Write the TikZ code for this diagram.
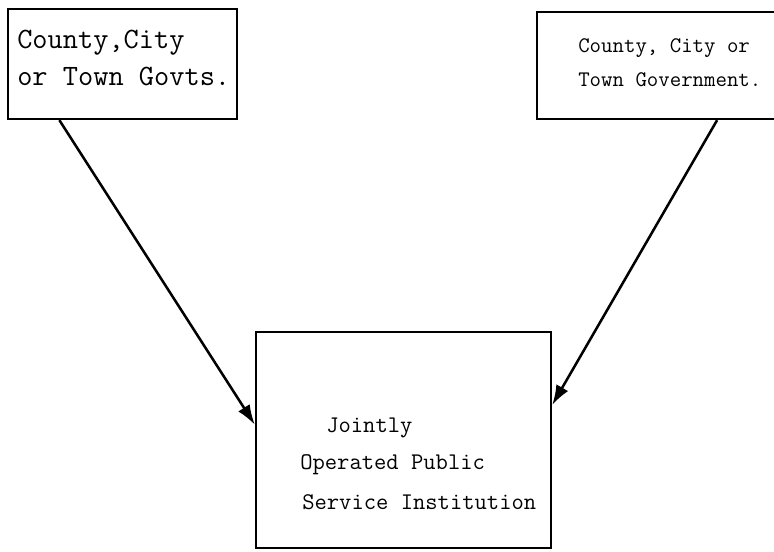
\documentclass[tikz,border=0pt]{standalone}
\usepackage{tikz}
\usetikzlibrary{calc}
\usetikzlibrary{arrows.meta}

\tikzset{govbox/.style={draw,line width=1.6pt,inner sep=0pt}}
\tikzset{tw/.style={inner sep=0pt,anchor=west,font=\ttfamily}}
\tikzset{feed/.style={line width=1.8pt,-{Latex[length=0.5cm,width=0.34cm]}}}

\begin{document}
\begin{tikzpicture}[x=0.025cm,y=-0.025cm]
\useasboundingbox (0,0) rectangle (774,551);
% the three boxes
\node[govbox,minimum width=5.725cm,minimum height=2.75cm] (govA) at (122.5,64) {};
\node[govbox,minimum width=6.15cm,minimum height=2.675cm] (govB) at (660,65.5) {};
\node[govbox,minimum width=7.375cm,minimum height=5.4cm] (inst) at (403.5,440) {};
% texts
\node[tw,font=\ttfamily\fontsize{21}{24}\selectfont] (a1) at (17,43) {County,City};
\node[tw,font=\ttfamily\fontsize{21}{24}\selectfont] (a2) at (17,76) {or Town Govts.};
\node[tw,font=\ttfamily\fontsize{15.8}{18}\selectfont] (b1) at (578,48) {County, City or};
\node[tw,font=\ttfamily\fontsize{15.8}{18}\selectfont] (b2) at (578,80) {Town Government.};
\node[tw,font=\ttfamily\fontsize{17}{20}\selectfont] (c1) at (326,428) {Jointly};
\node[tw,font=\ttfamily\fontsize{17}{20}\selectfont] (c2) at (300,465) {Operated Public};
\node[tw,font=\ttfamily\fontsize{17}{20}\selectfont] (c3) at (302,502) {Service Institution};
% arrows
\draw[feed] ($(govA.south west)!0.227!(govA.south east)$) -- ($(inst.north west)!0.43!(inst.south west)$);
\draw[feed] ($(govB.south west)!0.73!(govB.south east)$) -- ($(inst.north east)!0.34!(inst.south east)$);
\end{tikzpicture}
\end{document}
